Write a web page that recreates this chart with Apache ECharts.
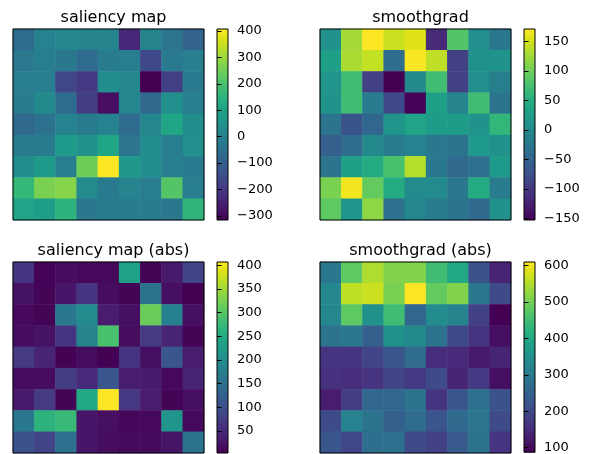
<!DOCTYPE html>
<html>
<head>
<meta charset="utf-8">
<script src="https://cdn.jsdelivr.net/npm/echarts@6/dist/echarts.min.js"></script>
<style>
html,body{margin:0;padding:0;background:#fff;}
#chart{width:593px;height:454px;}
</style>
</head>
<body>
<div id="chart"></div>
<script>
// ---- data (9x9 maps, rows top to bottom) ----
var titles = ['saliency map', 'smoothgrad', 'saliency map (abs)', 'smoothgrad (abs)'];

var saliency = [
  [-64, 5, 15, 11, 11, -233, 7, -31, -84],
  [-23, -7, -27, -64, -15, -7, -157, -19, -3],
  [-11, -7, -165, -195, 35, 19, -315, -180, -19],
  [-15, 23, -64, -185, -290, 15, -72, 43, -7],
  [-72, -43, 4, -15, 4, -64, 19, 112, 35],
  [-15, -15, 76, 52, 112, -35, 31, -11, 43],
  [31, 72, -7, 245, 407, 68, 35, -7, -19],
  [165, 262, 275, 27, -19, 10, -11, 213, -12],
  [104, 84, 152, -27, -15, -13, -13, -25, 157]
];

var smoothgrad = [
  [9, 126, 171, 145, 155, -114, 84, 6, -23],
  [28, 129, 142, -40, 169, 139, -91, 9, 12],
  [15, 71, -91, -153, -1, 71, -91, 6, -14],
  [12, 71, -20, -82, -150, 28, -7, 71, -30],
  [-30, -69, -46, 15, 35, 25, 25, 12, 61],
  [-56, -40, -1, -20, -10, -23, -30, 22, 9],
  [-30, 28, 45, 77, 135, -23, -43, -33, 22],
  [106, 165, 93, 45, 2, 2, -23, 45, -20],
  [90, 15, 116, -33, -4, -20, -30, -43, 9]
];

var saliencyAbs = [
  [64, 5, 15, 11, 11, 233, 7, 31, 84],
  [23, 7, 27, 64, 15, 7, 157, 19, 3],
  [11, 7, 165, 195, 35, 19, 315, 180, 19],
  [15, 23, 64, 185, 290, 15, 72, 43, 7],
  [72, 43, 4, 15, 4, 64, 19, 112, 35],
  [15, 15, 76, 52, 112, 35, 31, 11, 43],
  [31, 72, 7, 245, 407, 68, 35, 7, 19],
  [165, 262, 275, 27, 19, 10, 11, 213, 12],
  [104, 84, 152, 27, 15, 13, 13, 25, 157]
];

var smoothgradAbs = [
  [296, 479, 547, 511, 511, 448, 401, 218, 139],
  [328, 558, 568, 505, 610, 484, 511, 296, 202],
  [328, 479, 349, 448, 260, 338, 322, 186, 87],
  [286, 296, 244, 349, 333, 286, 202, 165, 108],
  [165, 165, 192, 228, 270, 155, 150, 124, 139],
  [160, 155, 165, 192, 176, 202, 139, 176, 108],
  [129, 181, 260, 260, 286, 165, 228, 281, 218],
  [207, 317, 286, 244, 270, 223, 265, 291, 202],
  [223, 197, 275, 281, 202, 186, 233, 286, 165]
];

// colour ranges (colorbar limits)
var saliencyRange = [-315, 407];
var smoothgradRange = [-153, 171];
var saliencyAbsRange = [3, 407];
var smoothgradAbsRange = [87, 610];

// colorbar tick labels
var saliencyTicks = [-300, -200, -100, 0, 100, 200, 300, 400];
var smoothgradTicks = [-150, -100, -50, 0, 50, 100, 150];
var saliencyAbsTicks = [50, 100, 150, 200, 250, 300, 350, 400];
var smoothgradAbsTicks = [100, 200, 300, 400, 500, 600];

// ---- styling ----
var VIRIDIS = ['#440154','#471365','#482475','#463480','#414487','#3b528b','#355f8d','#2f6c8e','#2a788e','#25848e','#21918c','#1e9c89','#22a884','#2fb47c','#44bf70','#5ec962','#7ad151','#9bd93c','#bddf26','#dfe318','#fde725'];
var FONT = 'DejaVu Sans';

var maps = [saliency, smoothgrad, saliencyAbs, smoothgradAbs];
var ranges = [saliencyRange, smoothgradRange, saliencyAbsRange, smoothgradAbsRange];
var ticks = [saliencyTicks, smoothgradTicks, saliencyAbsTicks, smoothgradAbsTicks];

var plotLeft = [13, 320, 13, 320];
var plotTop = [29, 29, 262, 262];
var cbLeft = [217, 524, 217, 524];
var SIZE = 191;
var CBW = 11;

var chart = echarts.init(document.getElementById('chart'), null, {renderer: 'canvas'});

var cats = [];
for (var i = 0; i < 9; i++) cats.push(String(i));

function toCells(m) {
  var out = [];
  for (var r = 0; r < m.length; r++)
    for (var c = 0; c < m[r].length; c++)
      out.push([c, r, m[r][c]]);
  return out;
}

var stops = VIRIDIS.map(function (col, i) { return {offset: i / (VIRIDIS.length - 1), color: col}; });

var grid = [], xAxis = [], yAxis = [], series = [], visualMap = [], title = [];

for (var k = 0; k < 4; k++) {
  // heatmap grid (drawn above the cells so the frame stays visible)
  grid.push({left: plotLeft[k], top: plotTop[k], width: SIZE, height: SIZE, show: true, z: 5,
    borderColor: '#000', borderWidth: 1, backgroundColor: 'transparent', containLabel: false});
  xAxis.push({type: 'category', data: cats, gridIndex: 2 * k, show: false});
  yAxis.push({type: 'category', data: cats, gridIndex: 2 * k, inverse: true, show: false});
  series.push({type: 'heatmap', xAxisIndex: 2 * k, yAxisIndex: 2 * k, data: toCells(maps[k]),
    itemStyle: {borderWidth: 0}, emphasis: {disabled: true}, z: 1});
  visualMap.push({type: 'continuous', show: false, seriesIndex: k, min: ranges[k][0], max: ranges[k][1],
    inRange: {color: VIRIDIS}});

  // colorbar grid
  grid.push({left: cbLeft[k], top: plotTop[k], width: CBW, height: SIZE, show: true,
    borderColor: '#000', borderWidth: 1,
    backgroundColor: new echarts.graphic.LinearGradient(0, 1, 0, 0, stops)});
  xAxis.push({type: 'value', gridIndex: 2 * k + 1, show: false, min: 0, max: 1});
  yAxis.push({type: 'value', gridIndex: 2 * k + 1, position: 'right',
    min: ranges[k][0], max: ranges[k][1],
    axisLine: {show: false},
    splitLine: {show: false},
    axisTick: {show: true, inside: false, length: 4.5, lineStyle: {color: '#000', width: 1},
      customValues: ticks[k]},
    axisLabel: {show: true, margin: 9, color: '#000', fontFamily: FONT, fontSize: 13,
      customValues: ticks[k],
      formatter: function (v) { return String(v).replace('-', '\u2212'); }}
  });

  title.push({text: titles[k], left: plotLeft[k] + SIZE / 2, textAlign: 'center',
    top: plotTop[k] - 24,
    textStyle: {fontFamily: FONT, fontSize: 16, fontWeight: 'normal', color: '#000'}});
}

chart.setOption({
  animation: false,
  backgroundColor: '#fff',
  title: title,
  grid: grid,
  xAxis: xAxis,
  yAxis: yAxis,
  visualMap: visualMap,
  series: series
});
</script>
</body>
</html>
